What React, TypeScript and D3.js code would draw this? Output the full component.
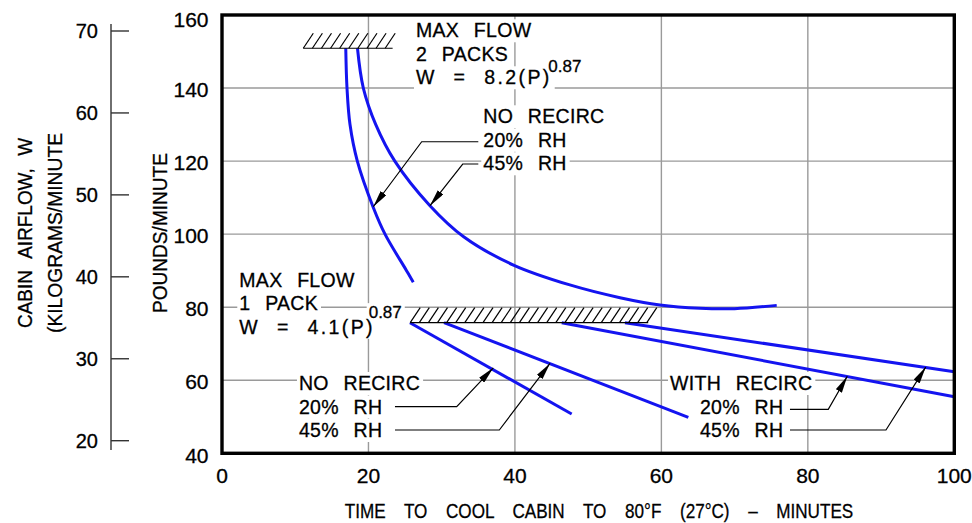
import React, { useLayoutEffect, useRef } from "react";
import * as d3 from "d3";

// ---------- data (minutes, pounds/minute) ----------
const xTicks = [0, 20, 40, 60, 80, 100];
const yTicks = [40, 60, 80, 100, 120, 140, 160];
const kgTicks = [20, 30, 40, 50, 60, 70];

type P = [number, number];
const noRecirc20TwoPack: P[] = [
  [16.9, 150.9], [17.07, 140], [17.48, 130], [18.48, 120], [20.66, 107.3],
  [22.26, 100], [25.2, 90], [26.12, 86.8],
];
const noRecirc45TwoPack: P[] = [
  [18.5, 150.9], [19.3, 140], [21.0, 130], [23.6, 120], [28.4, 107.8], [33.0, 99.3],
  [39.8, 91.55], [47.5, 86.1], [54.35, 82.6], [59.8, 80.6], [65.3, 79.7], [70, 79.6], [75.75, 80.5],
];
const noRecirc20OnePack: P[] = [[25.67, 75.76], [47.75, 50.76]];
const noRecirc45OnePack: P[] = [[30.32, 75.76], [63.68, 49.86]];
const recirc20OnePack: P[] = [[46.39, 75.76], [100, 55.5]];
const recirc45OnePack: P[] = [[55.03, 75.76], [100, 62.3]];

const maxFlowTwoPacks = { from: 11.1, to: 23.3, w: 150.9 };
const maxFlowOnePack = { from: 25.7, to: 58.2, w: 75.76 };

// annotation texts
const twoPackLines = ["MAX FLOW", "2 PACKS", "W = 8.2(P)"];
const onePackLines = ["MAX FLOW", "1 PACK", "W = 4.1(P)"];
const exponent = "0.87";
const noRecircLines = ["NO RECIRC", "20% RH", "45% RH"];
const withRecircLines = ["WITH RECIRC", "20% RH", "45% RH"];

// leaders: [text end, elbow, arrow tip] in data units
const leaders: P[][] = [
  [[35.0, 125.3], [27.27, 125.3], [20.66, 107.5]],
  [[35.0, 119.2], [32.87, 119.2], [28.4, 107.8]],
  [[23.62, 52.76], [32.05, 52.76], [37.05, 63.4]],
  [[23.62, 46.38], [37.87, 46.38], [44.79, 64.6]],
  [[77.56, 52.05], [82.79, 52.05], [85.39, 61.1]],
  [[77.56, 46.38], [90.67, 46.38], [96.1, 63.6]],
];

const W = 972, H = 523;
const FONT = "'Liberation Sans', Arial, sans-serif";
const BLUE = "#1414f0";
const GRID = "#9a9a9a";
const TS = { stroke: "#000", strokeWidth: 0.3 };

const x = d3.scaleLinear().domain([0, 100]).range([222, 954.3]);
const y = d3.scaleLinear().domain([40, 160]).range([453.3, 15]);
const yKg = d3.scaleLinear().domain([20, 70]).range([440.7, 31]);

const curve = d3.line<P>().x(d => x(d[0])).y(d => y(d[1])).curve(d3.curveCatmullRom.alpha(0.5));
const straight = d3.line<P>().x(d => x(d[0])).y(d => y(d[1]));

function hatch(h: { from: number; to: number; w: number }) {
  const x0 = x(h.from), x1 = x(h.to), by = y(h.w);
  const strokes = d3.range(x0, x1 + 0.1, 9.1);
  return (
    <g stroke="#000" strokeWidth={1.2}>
      <line x1={x0} x2={x1} y1={by} y2={by} />
      {strokes.map((bx, i) => (
        <line key={i} x1={bx} y1={by} x2={bx + 10} y2={by - 15} />
      ))}
    </g>
  );
}

const LH = 23.5;
function Block({ lines, px, py, subX, size = 19.5 }: { lines: string[]; px: number; py: number; subX?: number; size?: number }) {
  return (
    <g>
      {lines.map((t, i) => (
        <text key={i} className="ann" x={i > 0 && subX !== undefined ? x(subX) : x(px)} y={y(py) + i * LH}
          fontSize={size} fontFamily={FONT} {...TS}
          style={{ wordSpacing: "9px", letterSpacing: t.startsWith("W =") ? "2.4px" : "0.3px" }} fill="#000">{t}</text>
      ))}
    </g>
  );
}

export default function App() {
  const svgRef = useRef<SVGSVGElement>(null);
  useLayoutEffect(() => {
    const svg = d3.select(svgRef.current);
    const bg = svg.select<SVGGElement>("g.bg");
    bg.selectAll("*").remove();
    svg.selectAll<SVGTextElement, unknown>("text.ann").each(function () {
      const b = this.getBBox();
      bg.append("rect").attr("x", b.x - 2).attr("y", b.y).attr("width", b.width + 5)
        .attr("height", b.height + 1).attr("fill", "#fff");
    });
  }, []);

  return (
    <svg ref={svgRef} width={W} height={H} style={{ position: "absolute", left: 0, top: 0, background: "#fff" }}>
      <defs>
        <marker id="arr" markerUnits="userSpaceOnUse" viewBox="0 0 17 7" markerWidth={17} markerHeight={7}
          refX={17} refY={3.5} orient="auto">
          <path d="M0,0 L17,3.5 L0,7 Z" fill="#000" />
        </marker>
      </defs>
      {/* grid */}
      <g stroke={GRID} strokeWidth={1.4}>
        {xTicks.slice(1, -1).map(t => <line key={t} x1={x(t)} x2={x(t)} y1={y(160)} y2={y(40)} />)}
        {yTicks.slice(1, -1).map(t => <line key={t} x1={x(0)} x2={x(100)} y1={y(t)} y2={y(t)} />)}
      </g>
      <g className="bg" />
      {/* curves */}
      <g fill="none" stroke={BLUE} strokeWidth={3}>
        <path d={curve(noRecirc20TwoPack) || ""} />
        <path d={curve(noRecirc45TwoPack) || ""} />
        <path d={straight(noRecirc20OnePack) || ""} />
        <path d={straight(noRecirc45OnePack) || ""} />
        <path d={straight(recirc20OnePack) || ""} />
        <path d={straight(recirc45OnePack) || ""} />
      </g>
      {hatch(maxFlowTwoPacks)}
      {hatch(maxFlowOnePack)}
      {/* leaders */}
      <g fill="none" stroke="#000" strokeWidth={1.2}>
        {leaders.map((l, i) => (
          <path key={i} d={straight(l) || ""} markerEnd="url(#arr)" />
        ))}
      </g>
      {/* annotations */}
      <Block lines={twoPackLines} px={26.49} py={153.9} />
      <text className="ann" x={x(44.56)} y={y(144.5)} fontSize={17} fontFamily={FONT} {...TS}>{exponent}</text>
      <Block lines={noRecircLines} px={35.68} py={130.35} />
      <Block lines={onePackLines} px={2.36} py={85.6} />
      <text className="ann" x={x(20.03)} y={y(77.0)} fontSize={17} fontFamily={FONT} {...TS}>{exponent}</text>
      <Block lines={noRecircLines} px={10.51} py={57.33} />
      <Block lines={withRecircLines} px={61.18} py={57.33} subX={65.27} />
      {/* frame */}
      <rect x={x(0)} y={y(160)} width={x(100) - x(0)} height={y(40) - y(160)} fill="none" stroke="#000" strokeWidth={3.4} />
      {/* y tick labels */}
      <g fontFamily={FONT} fontSize={21} textAnchor="end" {...TS}>
        {yTicks.map(t => <text key={t} x={208.5} y={y(t) + (t === 160 ? 4 : 1.7)} dominantBaseline="central">{t}</text>)}
      </g>
      {/* x tick labels */}
      <g fontFamily={FONT} fontSize={21} textAnchor="middle" {...TS}>
        {xTicks.map(t => <text key={t} x={x(t)} y={483}>{t}</text>)}
      </g>
      {/* kg axis */}
      <g stroke="#333" strokeWidth={1.4}>
        <line x1={111} x2={111} y1={24} y2={450} />
        {kgTicks.map(t => <line key={t} x1={111} x2={129} y1={yKg(t)} y2={yKg(t)} />)}
      </g>
      <g fontFamily={FONT} fontSize={20} textAnchor="end" {...TS}>
        {kgTicks.map(t => <text key={t} x={98} y={yKg(t)} dominantBaseline="central">{t}</text>)}
      </g>
      {/* axis titles */}
      <g fontFamily={FONT} fontSize={21} {...TS}>
        <text transform="translate(166.7,233) rotate(-90)" textAnchor="middle"
          textLength={160} lengthAdjust="spacingAndGlyphs">POUNDS/MINUTE</text>
        <text transform="translate(31.7,233) rotate(-90)" textAnchor="middle"
          style={{ wordSpacing: "8px" }} textLength={190} lengthAdjust="spacingAndGlyphs">CABIN AIRFLOW, W</text>
        <text transform="translate(61.7,233) rotate(-90)" textAnchor="middle"
          textLength={200} lengthAdjust="spacingAndGlyphs">(KILOGRAMS/MINUTE</text>
        <text transform="translate(599,518) scale(0.815,1)" textAnchor="middle" style={{ wordSpacing: "17px" }}>
          TIME TO COOL CABIN TO 80°F (27°C) – MINUTES</text>
      </g>
    </svg>
  );
}
